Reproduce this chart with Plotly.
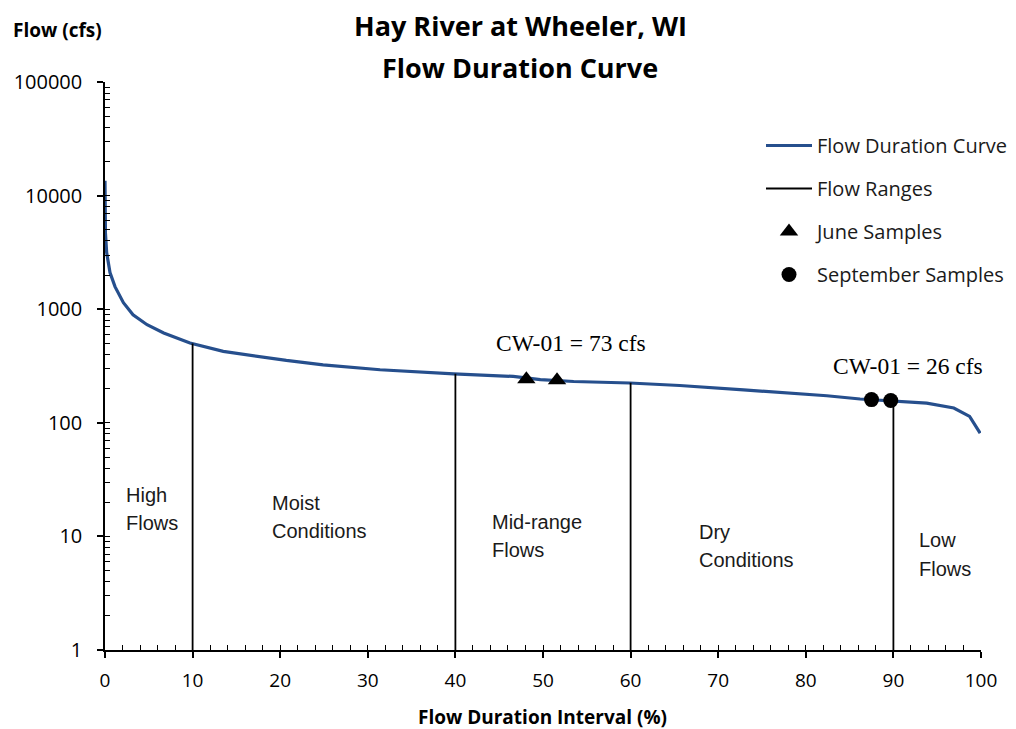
import plotly.graph_objects as go

# Flow duration curve: percent of time exceeded vs. flow (cfs)
pct = [0, 0.05, 0.19, 0.57, 1.14, 2.1, 3.2, 4.8, 6.7, 9.7, 13.5, 17.3, 20.7,
       24.9, 31.4, 39.8, 42.8, 46.6, 49.7, 53.5, 59.9, 65.6, 72.9, 82.4, 86.2,
       93.8, 96.9, 98.7, 99.9]
flow = [13500, 4700, 3150, 2100, 1580, 1140, 894, 730, 617, 504, 425, 384, 354,
        324, 293, 270, 262, 256, 240, 231, 224, 213, 195, 173, 162,
        149, 135, 114, 81]

# Flow-zone boundaries and the curve value where each boundary meets the curve
range_x = [10, 40, 60, 90]
range_top = [500, 270, 225, 157]

# Sample events placed on the curve
june_x = [48.1, 51.6]
june_y = [242, 237]
sept_x = [87.5, 89.7]
sept_y = [160, 157]

zone_names = [["High", "Flows"], ["Moist", "Conditions"], ["Mid-range", "Flows"],
              ["Dry", "Conditions"], ["Low", "Flows"]]

x_ticks = [0, 10, 20, 30, 40, 50, 60, 70, 80, 90, 100]
y_ticks = [1, 10, 100, 1000, 10000, 100000]

# tick marks drawn inside the plot: every 2 % on x, 1..9 per decade on y
x_inner = list(range(0, 101, 2))
y_inner = [m * 10 ** d for d in range(5) for m in range(1, 10)] + [100000]

SANS = "Open Sans, Liberation Sans, sans-serif"
ARIAL = "Liberation Sans, Arial, sans-serif"
SERIF = "Liberation Serif, Times New Roman, serif"

fig = go.Figure()

fig.add_trace(go.Scatter(
    x=pct, y=flow, mode="lines", name="Flow Duration Curve",
    line=dict(color="#264f8d", width=3.2), legendgroup="a"))

rx, ry = [], []
for xv, top in zip(range_x, range_top):
    rx += [xv, xv, None]
    ry += [1, top, None]
fig.add_trace(go.Scatter(
    x=rx, y=ry, mode="lines", name="Flow Ranges",
    line=dict(color="black", width=1.8), legendgroup="b"))

fig.add_trace(go.Scatter(
    x=june_x, y=june_y, mode="markers", name="June Samples",
    marker=dict(symbol="triangle-up", size=16, color="black"), legendgroup="c"))
fig.add_trace(go.Scatter(
    x=sept_x, y=sept_y, mode="markers", name="September Samples",
    marker=dict(symbol="circle", size=15, color="black"), legendgroup="d"))

# overlay axes carrying the inward tick marks
fig.add_trace(go.Scatter(x=[None], y=[None], xaxis="x2", yaxis="y2",
                         showlegend=False, hoverinfo="skip"))

# Zone labels, one annotation per text line: (left x in %, log10 y of each line)
zone_pos = [(2.2, 1.366, 1.119), (18.8, 1.295, 1.045), (44.0, 1.130, 0.880),
            (67.6, 1.040, 0.795), (92.7, 0.965, 0.715)]
for (x0, y1, y2), (l1, l2) in zip(zone_pos, zone_names):
    for yy, txt in ((y1, l1), (y2, l2)):
        fig.add_annotation(x=x0, y=yy, xref="x", yref="y", text=txt,
                           showarrow=False, xanchor="left", yanchor="middle",
                           font=dict(family=ARIAL, size=20, color="#1a1a1a"))

# Station sample callouts
fig.add_annotation(x=53.2, y=2.705, text="CW-01 = 73 cfs", showarrow=False,
                   xanchor="center", yanchor="middle",
                   font=dict(family=SERIF, size=23.5, color="black"))
fig.add_annotation(x=91.7, y=2.50, text="CW-01 = 26 cfs", showarrow=False,
                   xanchor="center", yanchor="middle",
                   font=dict(family=SERIF, size=23.5, color="black"))

# Titles
for txt, ypx in (("<b>Hay River at Wheeler, WI</b>", 26), ("<b>Flow Duration Curve</b>", 67)):
    fig.add_annotation(x=(520 - 105) / 876, y=(650 - ypx) / 568, xref="paper", yref="paper",
                       text=txt, showarrow=False, xanchor="center", yanchor="middle",
                       font=dict(family=SANS, size=27, color="black"))
fig.add_annotation(x=(11 - 105) / 876, y=(650 - 30) / 568, xref="paper", yref="paper",
                   text="<b>Flow (cfs)</b>", showarrow=False, xanchor="left", yanchor="middle",
                   font=dict(family=SANS, size=19, color="black"))
fig.add_annotation(x=(542 - 105) / 876, y=(650 - 717) / 568, xref="paper", yref="paper",
                   text="<b>Flow Duration Interval (%)</b>", showarrow=False,
                   xanchor="center", yanchor="middle",
                   font=dict(family=SANS, size=19, color="black"))

fig.update_layout(
    width=1016, height=729,
    margin=dict(l=105, r=35, t=82, b=79, autoexpand=False),
    paper_bgcolor="white", plot_bgcolor="white",
    showlegend=True,
    legend=dict(x=(761 - 105) / 876, y=(650 - 126) / 568, xanchor="left", yanchor="top",
                bgcolor="rgba(0,0,0,0)", tracegroupgap=14, itemwidth=46,
                font=dict(family=SANS, size=20, color="#1a1a1a")),
    xaxis=dict(range=[0, 100], tickvals=x_ticks, ticktext=[str(v) for v in x_ticks],
               showgrid=False, zeroline=False, showline=True, linecolor="black", linewidth=1.5,
               ticks="outside", ticklen=6, tickwidth=1.5, tickcolor="black",
               ticklabelstandoff=6,
               tickfont=dict(family=SANS, size=19, color="black")),
    yaxis=dict(type="log", range=[0, 5], tickvals=y_ticks, ticktext=[str(v) for v in y_ticks],
               showgrid=False, zeroline=False, showline=True, linecolor="black", linewidth=1.5,
               ticks="outside", ticklen=6, tickwidth=1.5, tickcolor="black",
               ticklabelstandoff=11,
               tickfont=dict(family=SANS, size=20, color="black")),
    xaxis2=dict(overlaying="x", range=[0, 100], tickvals=x_inner, showticklabels=False,
                showgrid=False, zeroline=False, showline=False, ticks="inside", ticklen=5,
                tickwidth=1.4, tickcolor="black", side="bottom"),
    yaxis2=dict(overlaying="y", type="log", range=[0, 5], tickvals=y_inner, showticklabels=False,
                showgrid=False, zeroline=False, showline=False, ticks="inside", ticklen=5,
                tickwidth=1.4, tickcolor="black", side="left"),
)

fig.write_html("out.html")
